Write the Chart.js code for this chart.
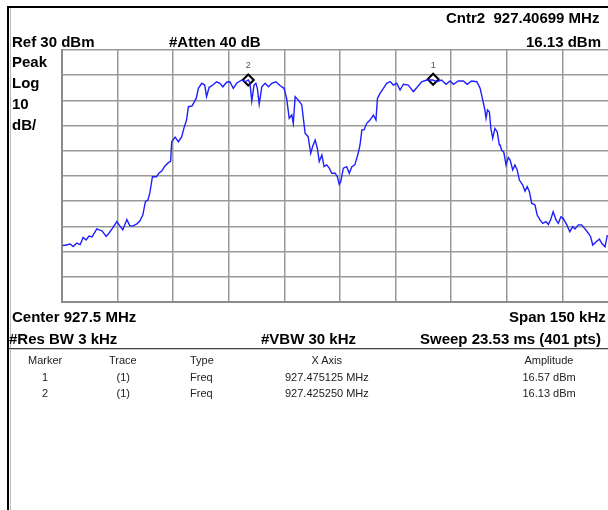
<!DOCTYPE html>
<html>
<head>
<meta charset="utf-8">
<script src="https://cdn.jsdelivr.net/npm/chart.js@4"></script>
<style>
  html, body { margin: 0; padding: 0; background: #fff; }
  body { width: 608px; height: 510px; overflow: hidden; position: relative; }
  #screen { position: absolute; left: 0; top: 0; }
  .lbl { position: absolute; white-space: pre; line-height: 1; }
  .big { font: bold 15px "Liberation Sans", Arial, sans-serif; color: #000; }
  .small { font: 11px "Liberation Sans", Arial, sans-serif; color: #222; }
  .line { position: absolute; }
</style>
</head>
<body>
<canvas id="screen" width="640" height="510"></canvas>
<div class="line" style="left:7px;top:6px;width:601px;height:2px;background:#000"></div>
<div class="line" style="left:7px;top:6px;width:2px;height:504px;background:#000"></div>
<div class="line" style="left:10px;top:8px;width:1px;height:502px;background:#bbb"></div>
<div class="line" style="left:9px;top:348px;width:599px;height:1px;background:#444"></div>
<div class="line" style="left:9px;top:349px;width:599px;height:1px;background:#ccc"></div>
<script>
// swept trace (MHz / dBm)
const traceFreqs = [
  927.3752, 927.3761, 927.3772, 927.3780, 927.3790, 927.3799, 927.3807, 927.3815, 927.3823, 927.3831,
  927.3844, 927.3850, 927.3858, 927.3869, 927.3877, 927.3885, 927.3898, 927.3904, 927.3914, 927.3925,
  927.3933, 927.3942, 927.3952, 927.3960, 927.3968, 927.3975, 927.3982, 927.3987, 927.3994, 927.4005,
  927.4012, 927.4019, 927.4028, 927.4037, 927.4043, 927.4046, 927.4055, 927.4064, 927.4073, 927.4079,
  927.4086, 927.4091, 927.4101, 927.4112, 927.4118, 927.4127, 927.4135, 927.4140, 927.4147, 927.4157,
  927.4167, 927.4176, 927.4184, 927.4194, 927.4203, 927.4212, 927.4221, 927.4235, 927.4244, 927.4253,
  927.4257, 927.4262, 927.4268, 927.4273, 927.4277, 927.4282, 927.4289, 927.4298, 927.4307, 927.4316,
  927.4327, 927.4338, 927.4349, 927.4356, 927.4363, 927.4370, 927.4374, 927.4379, 927.4387, 927.4397,
  927.4401, 927.4406, 927.4414, 927.4421, 927.4426, 927.4433, 927.4439, 927.4444, 927.4451, 927.4457,
  927.4464, 927.4471, 927.4478, 927.4487, 927.4493, 927.4498, 927.4502, 927.4509, 927.4518, 927.4525,
  927.4532, 927.4540, 927.4549, 927.4554, 927.4559, 927.4565, 927.4572, 927.4581, 927.4590, 927.4597,
  927.4601, 927.4608, 927.4617, 927.4626, 927.4635, 927.4644, 927.4653, 927.4662, 927.4671, 927.4684,
  927.4698, 927.4707, 927.4720, 927.4734, 927.4750, 927.4761, 927.4774, 927.4786, 927.4797, 927.4806,
  927.4819, 927.4833, 927.4843, 927.4855, 927.4869, 927.4878, 927.4885, 927.4891, 927.4894, 927.4898,
  927.4903, 927.4907, 927.4912, 927.4918, 927.4924, 927.4930, 927.4932, 927.4936, 927.4942, 927.4948,
  927.4954, 927.4959, 927.4966, 927.4972, 927.4978, 927.4984, 927.4993, 927.4999, 927.5005, 927.5011,
  927.5017, 927.5026, 927.5032, 927.5040, 927.5047, 927.5056, 927.5062, 927.5068, 927.5075, 927.5083,
  927.5089, 927.5096, 927.5102, 927.5112, 927.5120, 927.5128, 927.5134, 927.5143, 927.5152, 927.5161,
  927.5170, 927.5176, 927.5182, 927.5191, 927.5200, 927.5206, 927.5215, 927.5221, 927.5234, 927.5247
];
const traceLevels = [
  -47.6, -47.4, -47.0, -48.0, -46.6, -47.2, -44.4, -45.4, -43.8, -44.2,
  -41.0, -41.4, -41.8, -44.0, -42.6, -41.0, -38.1, -39.4, -41.4, -37.3,
  -39.8, -39.8, -39.0, -37.9, -35.5, -30.2, -29.5, -26.7, -20.3, -20.3,
  -18.8, -18.0, -16.0, -14.7, -14.2, -6.4, -4.6, -6.4, -4.4, -1.0,
  2.2, 7.5, 7.8, 10.8, 14.8, 16.8, 16.1, 11.5, 15.2, 16.1,
  17.4, 16.8, 15.4, 17.2, 17.4, 14.8, 16.8, 18.1, 17.4, 18.1,
  16.8, 9.8, 16.1, 16.8, 14.8, 8.5, 15.4, 16.8, 15.4, 16.8,
  17.4, 15.9, 14.8, 10.8, 2.9, 4.2, 0.9, 11.5, 10.2, 8.2,
  2.9, -3.1, -4.4, -11.0, -8.4, -5.7, -9.0, -14.3, -11.7, -16.3,
  -15.6, -16.9, -18.9, -18.9, -20.3, -23.3, -22.3, -16.9, -16.3, -18.9,
  -16.3, -15.6, -11.0, -7.7, -1.7, -1.7, 0.9, 2.2, 4.2, 2.2,
  10.8, 12.8, 14.8, 16.8, 17.5, 16.1, 16.8, 14.1, 16.4, 16.1,
  13.5, 15.0, 17.4, 18.1, 18.1, 17.4, 18.1, 16.4, 17.7, 16.4,
  17.7, 17.7, 16.4, 17.7, 17.4, 14.8, 10.2, 6.2, 2.9, 6.2,
  5.5, -1.1, -5.0, -1.1, -2.4, -7.7, -7.7, -9.7, -10.6, -15.6,
  -12.7, -13.7, -17.6, -15.6, -17.6, -21.6, -23.6, -26.0, -24.2, -26.2,
  -30.8, -31.5, -35.5, -37.5, -38.8, -38.1, -39.2, -37.5, -34.2, -37.5,
  -38.8, -36.2, -36.8, -39.4, -42.1, -40.1, -41.0, -39.4, -39.4, -41.0,
  -42.7, -44.1, -47.4, -46.1, -45.0, -46.7, -48.1, -43.7, -44.6, -45.8
];

// markers as drawn on the trace
const markerNames = ["1", "2"];
const markerFreqs = [927.475125, 927.42525];
const markerLevels = [18.4, 18.1];

// graticule: 10 divisions each way, ref level 30 dBm, 10 dB/div
const xDivs = [927.375, 927.39, 927.405, 927.42, 927.435, 927.45, 927.465, 927.48, 927.495, 927.51, 927.525];
const yDivs = [-70, -60, -50, -40, -30, -20, -10, 0, 10, 20, 30];

function dqs(q) {
  return document.querySelector(q);
}

function lbl(text, x, y, align, cls) {
  const d = document.createElement("div");
  d.className = "lbl " + cls;
  d.textContent = text;
  document.body.appendChild(d);
  const w = d.offsetWidth;
  const h = d.offsetHeight;
  let left = x;
  if (align === "right") left = x - w;
  if (align === "center") left = x - w / 2;
  d.style.left = left + "px";
  d.style.top = y - h / 2 + "px";
}

const markerLabels = {
  id: "markerLabels",
  afterDatasetsDraw(chart) {
    const meta = chart.getDatasetMeta(1);
    const ctx = chart.ctx;
    ctx.save();
    ctx.font = '9px "Liberation Sans", Arial, sans-serif';
    ctx.fillStyle = "#555";
    ctx.textAlign = "center";
    ctx.textBaseline = "middle";
    meta.data.forEach((pt, i) => {
      ctx.fillText(markerNames[i], pt.x, pt.y - 14);
    });
    ctx.restore();
  },
};

const gridStyle = {
  color: "#999",
  lineWidth: 1.5,
  drawTicks: false,
};

function setup() {
  new Chart(dqs("#screen").getContext("2d"), {
    type: "line",
    data: {
      datasets: [
        {
          data: traceFreqs.map((f, i) => ({ x: f, y: traceLevels[i] })),
          borderColor: "#1f1fff",
          borderWidth: 1.4,
          pointRadius: 0,
          tension: 0,
        },
        {
          data: markerFreqs.map((f, i) => ({ x: f, y: markerLevels[i] })),
          showLine: false,
          pointStyle: "rectRot",
          pointRadius: 5.5,
          pointBorderWidth: 2,
          pointBorderColor: "#000",
          pointBackgroundColor: "#fff",
          clip: false,
        },
      ],
    },
    options: {
      responsive: false,
      animation: false,
      devicePixelRatio: 1,
      layout: { padding: { left: 62, top: 50, right: 22, bottom: 208 } },
      plugins: { legend: { display: false }, tooltip: { enabled: false } },
      scales: {
        x: {
          type: "linear",
          min: xDivs[0],
          max: xDivs[xDivs.length - 1],
          afterBuildTicks: (s) => (s.ticks = xDivs.map((v) => ({ value: v }))),
          ticks: { display: false },
          grid: gridStyle,
          border: { display: true, color: "#8c8c8c", width: 2 },
        },
        y: {
          min: yDivs[0],
          max: yDivs[yDivs.length - 1],
          afterBuildTicks: (s) => (s.ticks = yDivs.map((v) => ({ value: v }))),
          ticks: { display: false },
          grid: gridStyle,
          border: { display: true, color: "#8c8c8c", width: 2 },
        },
      },
    },
    plugins: [markerLabels],
  });

  lbl("Cntr2  927.40699 MHz", 599, 17, "right", "big");
  lbl("16.13 dBm", 601, 41, "right", "big");
  lbl("Ref 30 dBm", 12, 41, "left", "big");
  lbl("#Atten 40 dB", 169, 41, "left", "big");
  lbl("Peak", 12, 61, "left", "big");
  lbl("Log", 12, 82, "left", "big");
  lbl("10", 12, 103, "left", "big");
  lbl("dB/", 12, 124, "left", "big");

  lbl("Center 927.5 MHz", 12, 316, "left", "big");
  lbl("Span 150 kHz", 606, 316, "right", "big");
  lbl("#Res BW 3 kHz", 9, 338, "left", "big");
  lbl("#VBW 30 kHz", 261, 338, "left", "big");
  lbl("Sweep 23.53 ms (401 pts)", 601, 338, "right", "big");

  lbl("Marker", 45, 360, "center", "small");
  lbl("Trace", 123, 360, "center", "small");
  lbl("Type", 190, 360, "left", "small");
  lbl("X Axis", 327, 360, "center", "small");
  lbl("Amplitude", 549, 360, "center", "small");

  lbl("1", 45, 377, "center", "small");
  lbl("(1)", 123, 377, "center", "small");
  lbl("Freq", 190, 377, "left", "small");
  lbl("927.475125 MHz", 327, 377, "center", "small");
  lbl("16.57 dBm", 549, 377, "center", "small");

  lbl("2", 45, 393, "center", "small");
  lbl("(1)", 123, 393, "center", "small");
  lbl("Freq", 190, 393, "left", "small");
  lbl("927.425250 MHz", 327, 393, "center", "small");
  lbl("16.13 dBm", 549, 393, "center", "small");
}

setup();
</script>
</body>
</html>
